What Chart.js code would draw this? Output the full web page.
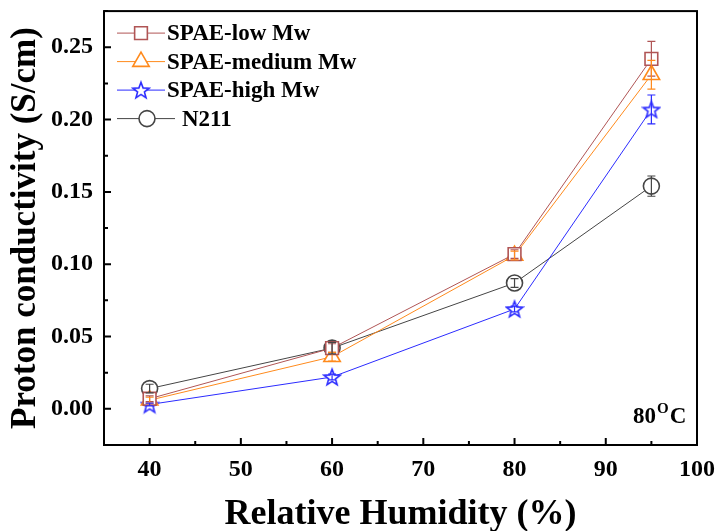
<!DOCTYPE html>
<html>
<head>
<meta charset="utf-8">
<script src="https://cdn.jsdelivr.net/npm/chart.js@4.4.0/dist/chart.umd.min.js"></script>
<style>
  html, body { margin: 0; padding: 0; background: #fff; }
</style>
</head>
<body>
<canvas id="my-chart" width="717" height="531"></canvas>
<script>
    // data
    const humidity = [40, 60, 80, 95];
    const lowMw = [0.007, 0.042, 0.107, 0.242];
    const lowErr = [0.002, 0.003, 0.003, 0.012];
    const mediumMw = [0.006, 0.036, 0.106, 0.231];
    const mediumErr = [0.002, 0.003, 0.003, 0.010];
    const highMw = [0.003, 0.022, 0.069, 0.207];
    const highErr = [0.001, 0.002, 0.002, 0.010];
    const n211 = [0.014, 0.042, 0.087, 0.154];
    const n211Err = [0.003, 0.004, 0.003, 0.007];
    const xTicks = [40, 50, 60, 70, 80, 90, 100];
    const yTicks = [0, 0.05, 0.1, 0.15, 0.2, 0.25];

    const serif = "'Liberation Serif', 'Times New Roman', serif";

    // 5 point star marker (chart.js 'star' is an asterisk)
    function makeStar(color) {
        const c = document.createElement("canvas");
        c.width = 20;
        c.height = 20;
        const g = c.getContext("2d");
        g.beginPath();
        for (let i = 0; i < 10; i++) {
            const r = i % 2 ? 3.6 : 8.6;
            const a = -Math.PI / 2 + (i * Math.PI) / 5;
            g.lineTo(10 + r * Math.cos(a), 10.8 + r * Math.sin(a));
        }
        g.closePath();
        g.fillStyle = "#fff";
        g.fill();
        g.strokeStyle = color;
        g.lineWidth = 1.6;
        g.stroke();
        return c;
    }

    function toPoints(ys) {
        return humidity.map((h, i) => ({ x: h, y: ys[i] }));
    }

    function makeSet(label, ys, errs, color, style, radius) {
        return {
            label: label,
            data: toPoints(ys),
            errors: errs,
            borderColor: color,
            borderWidth: 1,
            pointStyle: style,
            pointRadius: radius,
            pointBackgroundColor: "#fff",
            pointBorderColor: color,
            pointBorderWidth: 1.6,
            tension: 0,
        };
    }

    const datasets = [
        makeSet("SPAE-low Mw", lowMw, lowErr, "#b05555", "rect", 9),
        makeSet("SPAE-medium Mw", mediumMw, mediumErr, "#ff8a1c", "triangle", 9.5),
        makeSet("SPAE-high Mw", highMw, highErr, "#2b2bff", makeStar("#2b2bff"), 9),
        makeSet("N211", n211, n211Err, "#454545", "circle", 8),
    ];

    // frame, inward ticks, error bars, legend and note
    const decorate = {
        id: "decorate",
        afterDatasetsDraw(chart) {
            const ctx = chart.ctx;
            const area = chart.chartArea;
            const xs = chart.scales.x;
            const ys = chart.scales.y;
            ctx.save();

            // error bars
            chart.data.datasets.forEach((ds) => {
                ctx.strokeStyle = ds.borderColor;
                ctx.lineWidth = 1.2;
                ds.data.forEach((p, i) => {
                    const e = ds.errors[i];
                    const px = xs.getPixelForValue(p.x);
                    const top = ys.getPixelForValue(p.y + e);
                    const bot = ys.getPixelForValue(p.y - e);
                    ctx.beginPath();
                    ctx.moveTo(px, top);
                    ctx.lineTo(px, bot);
                    ctx.moveTo(px - 4, top);
                    ctx.lineTo(px + 4, top);
                    ctx.moveTo(px - 4, bot);
                    ctx.lineTo(px + 4, bot);
                    ctx.stroke();
                });
            });

            // box
            ctx.strokeStyle = "#000";
            ctx.lineWidth = 2;
            ctx.strokeRect(area.left, area.top, area.right - area.left, area.bottom - area.top);

            // ticks pointing in
            ctx.beginPath();
            for (let v = 35; v <= 100; v += 5) {
                const px = xs.getPixelForValue(v);
                const len = v % 10 === 0 ? 7 : 4;
                ctx.moveTo(px, area.bottom);
                ctx.lineTo(px, area.bottom - len);
            }
            for (let k = -1; k <= 11; k++) {
                const v = k * 0.025;
                const py = ys.getPixelForValue(v);
                const len = k % 2 === 0 ? 7 : 4;
                ctx.moveTo(area.left, py);
                ctx.lineTo(area.left + len, py);
            }
            ctx.stroke();

            // legend
            ctx.font = "bold 23px " + serif;
            ctx.textBaseline = "middle";
            ctx.textAlign = "left";
            chart.data.datasets.forEach((ds, i) => {
                const y = area.top + 22 + i * 28.5;
                const last = i === 3;
                const x0 = area.left + 13;
                const x1 = x0 + (last ? 58 : 48);
                const mx = x0 + (last ? 30 : 24);
                ctx.strokeStyle = ds.borderColor;
                ctx.lineWidth = 1;
                ctx.beginPath();
                ctx.moveTo(x0, y);
                ctx.lineTo(x1, y);
                ctx.stroke();
                ctx.fillStyle = "#fff";
                ctx.lineWidth = ds.pointBorderWidth;
                Chart.helpers.drawPoint(ctx, {
                    pointStyle: ds.pointStyle,
                    rotation: 0,
                    radius: ds.pointRadius,
                    borderWidth: ds.pointBorderWidth,
                }, mx, y);
                ctx.fillStyle = "#000";
                ctx.fillText(ds.label, x1 + (last ? 7 : 2), y + 1);
            });

            // temperature note
            ctx.textBaseline = "alphabetic";
            ctx.font = "bold 23px " + serif;
            const bx = area.right - 64;
            const by = area.bottom - 22;
            ctx.fillText("80", bx, by);
            const w80 = ctx.measureText("80").width;
            ctx.font = "bold 15px " + serif;
            ctx.fillText("O", bx + w80 + 1, by - 10);
            const wO = ctx.measureText("O").width;
            ctx.font = "bold 23px " + serif;
            ctx.fillText("C", bx + w80 + wO + 2, by);
            ctx.restore();
        },
    };

    const context = document.getElementById("my-chart");

    const config = {
        type: "line",
        data: { datasets: datasets },
        options: {
            responsive: false,
            animation: false,
            layout: { padding: { top: 10, right: 20, left: 0, bottom: 0 } },
            plugins: {
                legend: { display: false },
                tooltip: { enabled: false },
            },
            scales: {
                x: {
                    type: "linear",
                    min: 35,
                    max: 100,
                    afterBuildTicks: (s) => {
                        s.ticks = xTicks.map((v) => ({ value: v }));
                    },
                    afterFit: (s) => {
                        s.height = 86;
                        s.paddingLeft = 0;
                        s.paddingRight = 0;
                    },
                    grid: { display: false, drawTicks: false },
                    border: { display: false },
                    ticks: {
                        color: "#000",
                        padding: 10,
                        maxRotation: 0,
                        font: { family: serif, size: 24, weight: "bold" },
                    },
                    title: {
                        display: true,
                        text: "Relative Humidity (%)",
                        color: "#000",
                        padding: { top: 0, bottom: 0 },
                        font: { family: serif, size: 36, weight: "bold", lineHeight: 0.9 },
                    },
                },
                y: {
                    min: -0.025,
                    max: 0.275,
                    afterBuildTicks: (s) => {
                        s.ticks = yTicks.map((v) => ({ value: v }));
                    },
                    afterFit: (s) => {
                        s.width = 104;
                        s.paddingTop = 0;
                        s.paddingBottom = 0;
                    },
                    grid: { display: false, drawTicks: false },
                    border: { display: false },
                    ticks: {
                        color: "#000",
                        padding: 11,
                        font: { family: serif, size: 24, weight: "bold" },
                        callback: (v) => v.toFixed(2),
                    },
                    title: {
                        display: true,
                        text: "Proton conductivity (S/cm)",
                        color: "#000",
                        padding: { top: 8, bottom: 0 },
                        font: { family: serif, size: 35, weight: "bold", lineHeight: 1 },
                    },
                },
            },
        },
        plugins: [decorate],
    };

    const myChart = new Chart(context, config);
</script>
</body>
</html>
